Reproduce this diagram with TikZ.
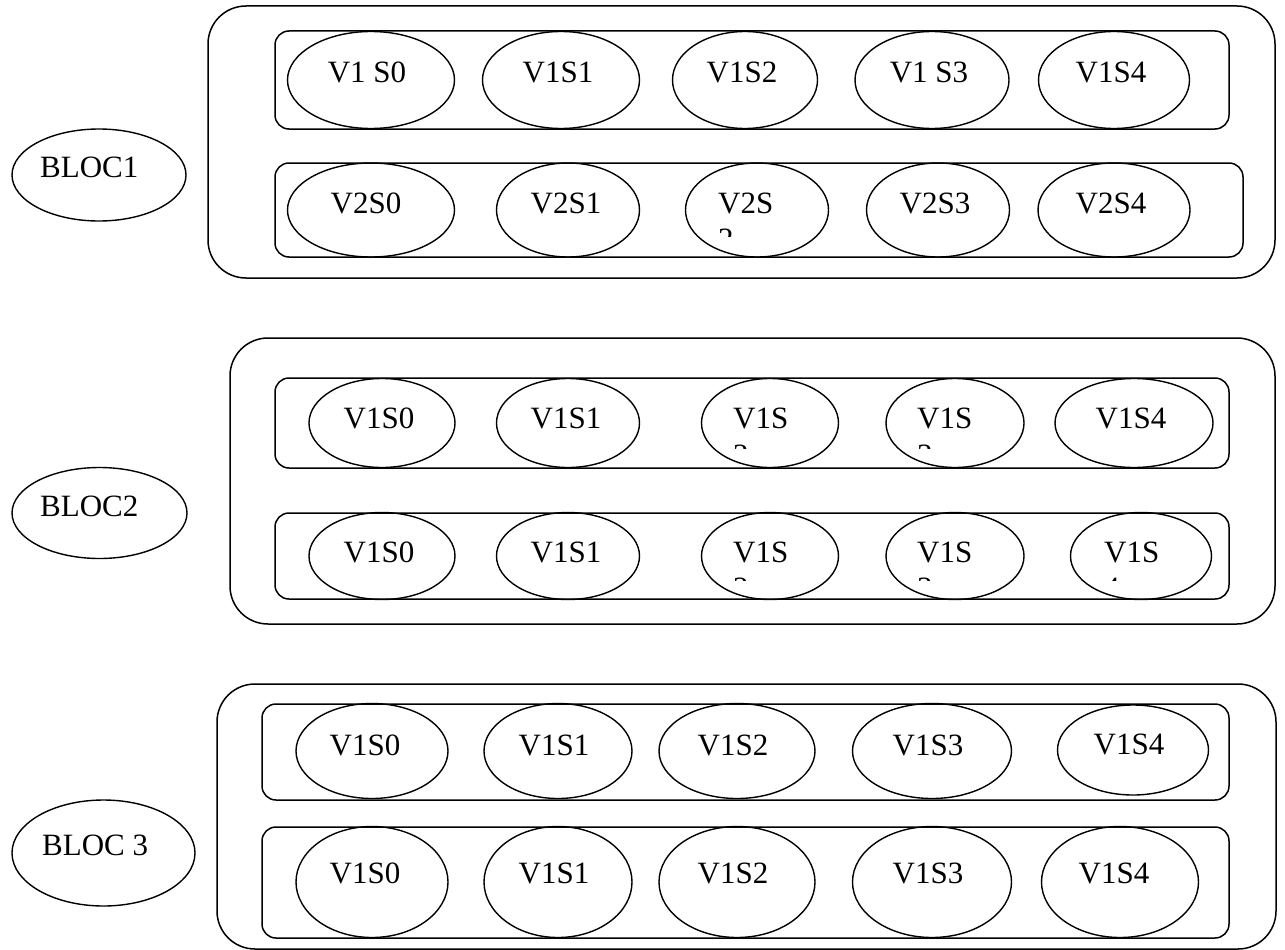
\documentclass[tikz,border=0pt]{standalone}
\usepackage{fontspec}
\setmainfont{Liberation Serif}
\usetikzlibrary{shapes.geometric}
\tikzset{
  outerbox/.style={draw, line width=1.5pt, rounded corners=38pt, inner sep=0pt},
  rowbox/.style={draw, line width=1.5pt, rounded corners=14pt, inner sep=0pt},
  ell/.style={draw, ellipse, line width=1.4pt, inner sep=0pt},
  lbl/.style={inner sep=0pt, anchor=base, font=\fontsize{31}{35}\selectfont},
  lblw/.style={inner sep=0pt, anchor=base west, font=\fontsize{31}{35}\selectfont}
}
\begin{document}
\begin{tikzpicture}[x=1pt,y=-1pt]
\useasboundingbox (0,0) rectangle (1285,950);

% ---------- BLOC 1 ----------
\node[ell, minimum width=174pt, minimum height=92pt] (bloc1) at (99,175) {};
\node[lblw] (bloc1t) at (40,177) {BLOC1};
\node[outerbox, minimum width=1067pt, minimum height=272pt] (b1) at (741.5,142) {};
\node[rowbox, minimum width=954pt, minimum height=98pt] (b1r1) at (752,80) {};
\node[rowbox, minimum width=968pt, minimum height=94pt] (b1r2) at (759,210) {};
% row 1
\node[ell, minimum width=167pt, minimum height=97pt] (b1r1e0) at (371,80) {};
\node[ell, minimum width=157pt, minimum height=97pt] (b1r1e1) at (561,80) {};
\node[ell, minimum width=145pt, minimum height=97pt] (b1r1e2) at (745,80) {};
\node[ell, minimum width=154pt, minimum height=97pt] (b1r1e3) at (932,80) {};
\node[ell, minimum width=151pt, minimum height=97pt] (b1r1e4) at (1114,80) {};
\node[lbl] (b1r1t0) at (367,82) {V1 S0};
\node[lbl] (b1r1t1) at (558,82) {V1S1};
\node[lbl] (b1r1t2) at (742,82) {V1S2};
\node[lbl] (b1r1t3) at (929,82) {V1 S3};
\node[lbl] (b1r1t4) at (1111,82) {V1S4};
% row 2
\node[ell, minimum width=167pt, minimum height=94pt] (b1r2e0) at (371,210) {};
\node[ell, minimum width=143pt, minimum height=94pt] (b1r2e1) at (568,210) {};
\node[ell, minimum width=143pt, minimum height=94pt] (b1r2e2) at (757,210) {};
\node[ell, minimum width=143pt, minimum height=94pt] (b1r2e3) at (938,210) {};
\node[ell, minimum width=152pt, minimum height=94pt] (b1r2e4) at (1114,210) {};
\node[lbl] (b1r2t0) at (366,213) {V2S0};
\node[lbl] (b1r2t1) at (566,213) {V2S1};
\node[lblw] (b1r2t2) at (718,213) {V2S};
\begin{scope}
  \clip (700,200) rectangle (800,236);
  \node[lblw] (b1r2t2b) at (718,249) {2};
\end{scope}
\node[lbl] (b1r2t3) at (935,213) {V2S3};
\node[lbl] (b1r2t4) at (1111,213) {V2S4};

% ---------- BLOC 2 ----------
\node[ell, minimum width=175pt, minimum height=91pt] (bloc2) at (99.5,513) {};
\node[lblw] (bloc2t) at (40,516) {BLOC2};
\node[outerbox, minimum width=1045pt, minimum height=286pt] (b2) at (752.5,481) {};
\node[rowbox, minimum width=954pt, minimum height=90pt] (b2r1) at (752,423) {};
\node[rowbox, minimum width=954pt, minimum height=86pt] (b2r2) at (752,556) {};
% row 1
\node[ell, minimum width=146pt, minimum height=89pt] (b2r1e0) at (382,423) {};
\node[ell, minimum width=143pt, minimum height=89pt] (b2r1e1) at (568,423) {};
\node[ell, minimum width=137pt, minimum height=89pt] (b2r1e2) at (770,423) {};
\node[ell, minimum width=138pt, minimum height=89pt] (b2r1e3) at (955,423) {};
\node[ell, minimum width=158pt, minimum height=89pt] (b2r1e4) at (1134,423) {};
\node[lbl] (b2r1t0) at (379,428) {V1S0};
\node[lbl] (b2r1t1) at (566,428) {V1S1};
\node[lblw] (b2r1t2) at (733,428) {V1S};
\node[lblw] (b2r1t3) at (917,428) {V1S};
\begin{scope}
  \clip (700,430) rectangle (1000,448);
  \node[lblw] (b2r1t2b) at (733,465) {2};
  \node[lblw] (b2r1t3b) at (917,465) {3};
\end{scope}
\node[lbl] (b2r1t4) at (1131,428) {V1S4};
% row 2
\node[ell, minimum width=146pt, minimum height=87pt] (b2r2e0) at (382,556) {};
\node[ell, minimum width=143pt, minimum height=87pt] (b2r2e1) at (568,556) {};
\node[ell, minimum width=137pt, minimum height=87pt] (b2r2e2) at (770,556) {};
\node[ell, minimum width=138pt, minimum height=87pt] (b2r2e3) at (955,556) {};
\node[ell, minimum width=141pt, minimum height=87pt] (b2r2e4) at (1141,556) {};
\node[lbl] (b2r2t0) at (379,562) {V1S0};
\node[lbl] (b2r2t1) at (566,562) {V1S1};
\node[lblw] (b2r2t2) at (733,562) {V1S};
\node[lblw] (b2r2t3) at (917,562) {V1S};
\node[lblw] (b2r2t4) at (1104,562) {V1S};
\begin{scope}
  \clip (700,565) rectangle (1200,580);
  \node[lblw] (b2r2t2b) at (733,598) {2};
  \node[lblw] (b2r2t3b) at (917,598) {3};
  \node[lblw] (b2r2t4b) at (1104,598) {4};
\end{scope}

% ---------- BLOC 3 ----------
\node[ell, minimum width=183pt, minimum height=106pt] (bloc3) at (103.5,853) {};
\node[lblw] (bloc3t) at (42,855) {BLOC 3};
\node[outerbox, minimum width=1059pt, minimum height=265pt] (b3) at (746.5,816.5) {};
\node[rowbox, minimum width=967pt, minimum height=96pt] (b3r1) at (745.5,752) {};
\node[rowbox, minimum width=967pt, minimum height=111pt] (b3r2) at (745.5,882.5) {};
% row 1
\node[ell, minimum width=152pt, minimum height=95pt] (b3r1e0) at (372,751) {};
\node[ell, minimum width=148pt, minimum height=95pt] (b3r1e1) at (558,751) {};
\node[ell, minimum width=156pt, minimum height=95pt] (b3r1e2) at (737,751) {};
\node[ell, minimum width=159pt, minimum height=95pt] (b3r1e3) at (932,751) {};
\node[ell, minimum width=151pt, minimum height=90pt] (b3r1e4) at (1133,750) {};
\node[lbl] (b3r1t0) at (365,755) {V1S0};
\node[lbl] (b3r1t1) at (554,755) {V1S1};
\node[lbl] (b3r1t2) at (733,755) {V1S2};
\node[lbl] (b3r1t3) at (928,755) {V1S3};
\node[lbl] (b3r1t4) at (1129,754) {V1S4};
% row 2
\node[ell, minimum width=152pt, minimum height=111pt] (b3r2e0) at (372,882) {};
\node[ell, minimum width=148pt, minimum height=111pt] (b3r2e1) at (558,882) {};
\node[ell, minimum width=156pt, minimum height=111pt] (b3r2e2) at (737,882) {};
\node[ell, minimum width=159pt, minimum height=111pt] (b3r2e3) at (932,882) {};
\node[ell, minimum width=157pt, minimum height=111pt] (b3r2e4) at (1120,882) {};
\node[lbl] (b3r2t0) at (365,883) {V1S0};
\node[lbl] (b3r2t1) at (554,883) {V1S1};
\node[lbl] (b3r2t2) at (733,883) {V1S2};
\node[lbl] (b3r2t3) at (928,883) {V1S3};
\node[lbl] (b3r2t4) at (1114,883) {V1S4};
\end{tikzpicture}
\end{document}
